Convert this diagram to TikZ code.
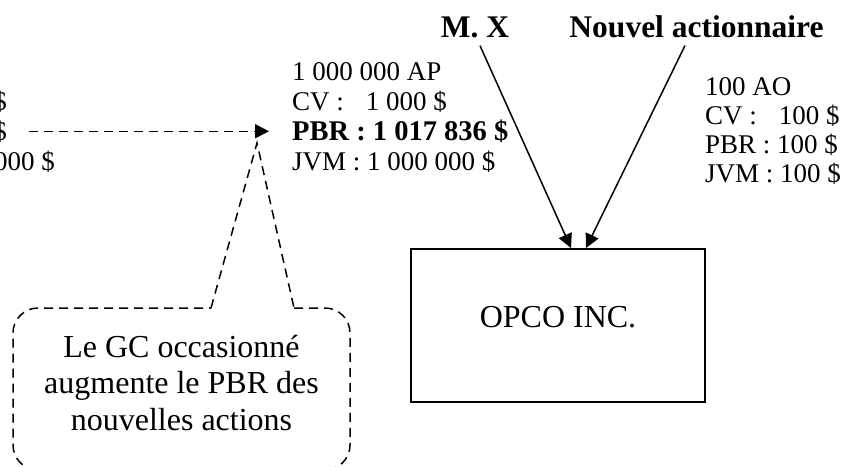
\documentclass[tikz,border=0pt]{standalone}
\usepackage{fontspec}
\setmainfont{Liberation Serif}
\usetikzlibrary{arrows.meta, positioning, calc}

\begin{document}
\begin{tikzpicture}[x=1pt, y=-1pt,
    box/.style={rectangle, draw, line width=2pt, minimum width=294pt, minimum height=153pt,
                font=\fontsize{32}{36}\selectfont, text height=22pt, text depth=19pt},
    holder/.style={inner sep=8pt, font=\fontsize{31.5}{36}\selectfont\bfseries},
    shares/.style={inner sep=0pt, align=left, font=\fontsize{27}{30}\selectfont},
    note/.style={align=center, font=\fontsize{32}{36.7}\selectfont},
    link/.style={-{Triangle[length=14pt, width=14pt]}, line width=1.5pt},
    dashline/.style={line width=1.5pt, dash pattern=on 9pt off 6pt}]

    \useasboundingbox (0,0) rectangle (843,466);

    % Shareholders and company
    \node[holder, anchor=base] (mx) at (475, 37) {M. X};
    \node[holder, anchor=base] (nouvel) at (696.5, 37) {Nouvel actionnaire};
    \node[box] (opco) at (558, 325.5) {OPCO INC.};

    % Arrows
    \draw[link] ([xshift=5pt]mx.south) -- ([xshift=13pt]opco.north);
    \draw[link] ([xshift=-11.5pt]nouvel.south) -- ([xshift=28pt]opco.north);

    % Old shares (cut by the page)
    \node[shares, anchor=base east] (oldcv) at (7, 110) {\$};
    \node[shares, anchor=base east] (oldpbr) at (7, 140) {\$};
    \node[shares, anchor=base east] (oldjvm) at (55, 170) {000 \$};

    % New shares
    \node[shares, anchor=base west] (newap) at (292, 170) {
        1 000 000 AP\\
        CV :\hspace{22pt}1 000 \$\\
        {\fontsize{28.5}{30}\selectfont\bfseries PBR : 1 017 836 \$}\\
        JVM : 1 000 000 \$
    };
    \node[shares, anchor=base west, font=\fontsize{27}{29}\selectfont] (newao) at (705, 182) {
        100 AO\\
        CV :\hspace{22pt}100 \$\\
        PBR : 100 \$\\
        JVM : 100 \$
    };

    % Rollover
    \draw[dashline, -{Triangle[length=14pt, width=14pt]}, shorten <=22pt, shorten >=23pt]
        (oldpbr.east) -- (oldpbr.east -| newap.west);

    % Note
    \coordinate (tip) at (257, 143);
    \draw[dashline] (211, 308) -- (tip) -- (294, 308);
    \draw[dashline, rounded corners=25pt] (294, 308) -- (350, 308) -- (350, 470)
        -- (13, 470) -- (13, 308) -- (211, 308);
    \node[note] (gcnote) at (181.5, 383) {Le GC occasionné\\augmente le PBR des\\nouvelles actions};
\end{tikzpicture}
\end{document}
